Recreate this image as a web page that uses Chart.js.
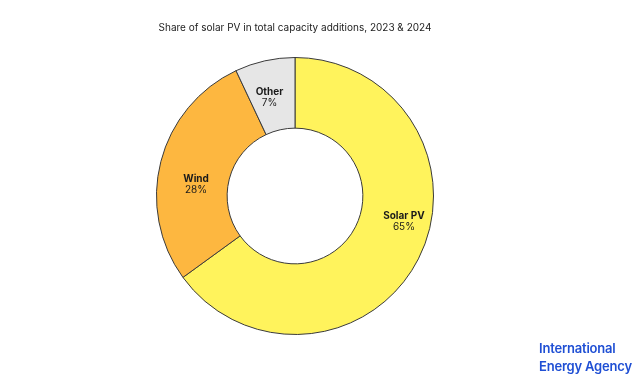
<!DOCTYPE html>
<html>
<head>
<meta charset="utf-8">
<script src="https://cdn.jsdelivr.net/npm/chart.js@4.4.1/dist/chart.umd.min.js"></script>
<style>
    html, body { margin: 0; padding: 0; background: #ffffff; }
    #wrap { position: relative; width: 641px; height: 380px; overflow: hidden; }
    #box { position: absolute; left: 0; top: 0; width: 590px; height: 380px; }
    #logo {
        position: absolute; left: 539px; top: 339px; white-space: nowrap;
        font-family: Inter, "Open Sans", sans-serif; font-size: 13px; font-weight: 600;
        line-height: 18px; color: #1f4fd4; letter-spacing: -0.2px;
    }
</style>
</head>
<body>
<div id="wrap">
    <div id="box"><canvas id="chart" width="590" height="380"></canvas></div>
    <div id="logo">International<br>Energy Agency</div>
</div>
<script>
    const categories = ['Solar PV', 'Wind', 'Other'];
    const shares = [65, 28, 7];
    const colors = ['#fff35c', '#fdb740', '#e6e6e6'];

    // Draws the category name and share inside each ring segment
    const segmentLabels = {
        id: 'segmentLabels',
        afterDatasetsDraw(chart, args, opts) {
            const ctx = chart.ctx;
            const meta = chart.getDatasetMeta(0);
            const nudge = opts.nudge || [];
            ctx.save();
            ctx.textAlign = 'center';
            ctx.textBaseline = 'middle';
            ctx.fillStyle = '#1a1a1a';
            meta.data.forEach((arc, i) => {
                const mid = (arc.startAngle + arc.endAngle) / 2;
                const r = (arc.innerRadius + arc.outerRadius) / 2;
                const [dx, dy] = nudge[i] || [0, 0];
                const x = arc.x + Math.cos(mid) * r + dx;
                const y = arc.y + Math.sin(mid) * r + dy;
                ctx.font = 'bold 10px Inter, "Open Sans", sans-serif';
                ctx.fillText(categories[i], x, y - 5);
                ctx.font = '10px Inter, "Open Sans", sans-serif';
                ctx.fillText(shares[i] + '%', x, y + 6);
            });
            ctx.restore();
        }
    };

    new Chart(document.getElementById('chart'), {
        type: 'doughnut',
        data: {
            labels: categories,
            datasets: [{
                data: shares,
                backgroundColor: colors,
                borderColor: '#3a3a3a',
                borderWidth: 1
            }]
        },
        options: {
            responsive: false,
            animation: false,
            cutout: '49%',
            layout: { padding: { bottom: 45 } },
            plugins: {
                legend: { display: false },
                tooltip: { enabled: false },
                title: {
                    display: true,
                    text: 'Share of solar PV in total capacity additions, 2023 & 2024',
                    color: '#222222',
                    font: { family: 'Inter, "Open Sans", sans-serif', size: 10, weight: 'normal' },
                    padding: { top: 22, bottom: 23 }
                },
                segmentLabels: {
                    nudge: [[17, -22], [1, 14], [-3, 2]]
                }
            }
        },
        plugins: [segmentLabels]
    });
</script>
</body>
</html>
